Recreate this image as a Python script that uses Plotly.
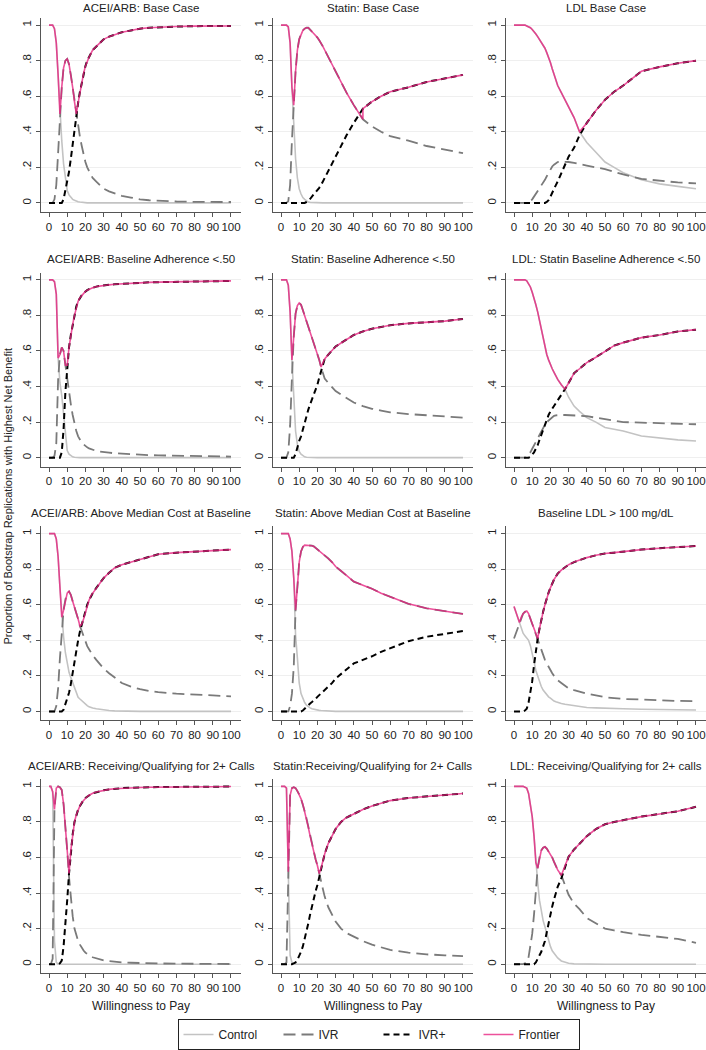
import plotly.graph_objects as go
from plotly.subplots import make_subplots

# willingness to pay grid (shared by every panel)
wtp = [0, 1, 2, 3, 4, 5, 6, 7, 8, 9,
       10, 11, 12, 13, 14, 15, 16, 17, 18, 19,
       20, 21, 22, 23, 24,
       26, 28, 30, 33, 36, 40, 45, 50, 55, 60, 70, 80, 90, 100]

# ACEI/ARB: Base Case
acei_base_control = [1, 1, 1, 0.98, 0.9, 0.72, 0.5, 0.35, 0.22, 0.13,
                     0.07, 0.045, 0.03, 0.02, 0.015, 0.01, 0.007, 0.005, 0.003, 0.002,
                     0.001, 0, 0, 0, 0,
                     0, 0, 0, 0, 0, 0, 0, 0, 0, 0, 0, 0, 0, 0]
acei_base_ivr = [0, 0, 0, 0.02, 0.1, 0.28, 0.5, 0.65, 0.76, 0.8,
                 0.81, 0.78, 0.72, 0.65, 0.57, 0.49, 0.43, 0.37, 0.32, 0.27,
                 0.23, 0.2, 0.18, 0.16, 0.14,
                 0.12, 0.1, 0.08, 0.065, 0.055, 0.04, 0.03, 0.02, 0.015, 0.012, 0.008, 0.006, 0.005, 0.005]
acei_base_ivrplus = [0, 0, 0, 0, 0, 0, 0, 0, 0.02, 0.07,
                     0.12, 0.175, 0.25, 0.33, 0.415, 0.5, 0.563, 0.625, 0.677, 0.728,
                     0.769, 0.8, 0.82, 0.84, 0.86,
                     0.88, 0.9, 0.92, 0.935, 0.945, 0.96, 0.97, 0.98, 0.985, 0.988, 0.992, 0.994, 0.995, 0.995]
acei_base_frontier = [("Control", 0, 6), ("IVR", 7, 14), ("IVR+", 15, 100)]

# Statin: Base Case
statin_base_control = [1, 1, 1, 1, 0.99, 0.9, 0.65, 0.45, 0.25, 0.14,
                       0.08, 0.05, 0.03, 0.02, 0.01, 0.005, 0.003, 0.002, 0.001, 0,
                       0, 0, 0, 0, 0,
                       0, 0, 0, 0, 0, 0, 0, 0, 0, 0, 0, 0, 0, 0]
statin_base_ivr = [0, 0, 0, 0, 0.01, 0.1, 0.35, 0.55, 0.74, 0.86,
                   0.92, 0.95, 0.97, 0.98, 0.985, 0.985, 0.975, 0.96, 0.95, 0.94,
                   0.93, 0.915, 0.9, 0.88, 0.86,
                   0.82, 0.78, 0.74, 0.68, 0.62, 0.55, 0.47, 0.43, 0.4, 0.375, 0.35, 0.32, 0.3, 0.28]
statin_base_ivrplus = [0, 0, 0, 0, 0, 0, 0, 0, 0, 0,
                       0, 0, 0, 0, 0.005, 0.01, 0.022, 0.038, 0.049, 0.06,
                       0.07, 0.085, 0.1, 0.12, 0.14,
                       0.18, 0.22, 0.26, 0.32, 0.38, 0.45, 0.53, 0.57, 0.6, 0.625, 0.65, 0.68, 0.7, 0.72]
statin_base_frontier = [("Control", 0, 6), ("IVR", 7, 45), ("IVR+", 45, 100)]

# LDL Base Case
ldl_base_control = [1, 1, 1, 1, 1, 1, 1, 0.995, 0.99, 0.985,
                    0.975, 0.965, 0.95, 0.935, 0.92, 0.9, 0.885, 0.87, 0.845, 0.82,
                    0.79, 0.755, 0.72, 0.69, 0.66,
                    0.62, 0.58, 0.54, 0.48, 0.4, 0.34, 0.285, 0.23, 0.2, 0.17, 0.13, 0.107, 0.093, 0.08]
ldl_base_ivr = [0, 0, 0, 0, 0, 0, 0, 0, 0.005, 0.01,
                0.02, 0.035, 0.05, 0.065, 0.08, 0.1, 0.115, 0.13, 0.15, 0.17,
                0.19, 0.205, 0.215, 0.225, 0.23,
                0.232, 0.232, 0.23, 0.225, 0.22, 0.21, 0.2, 0.19, 0.175, 0.16, 0.135, 0.125, 0.115, 0.11]
ldl_base_ivrplus = [0, 0, 0, 0, 0, 0, 0, 0, 0, 0,
                    0, 0, 0, 0, 0, 0, 0, 0, 0.005, 0.015,
                    0.035, 0.06, 0.08, 0.1, 0.12,
                    0.17, 0.215, 0.26, 0.31, 0.38, 0.45, 0.52, 0.58, 0.625, 0.66, 0.74, 0.765, 0.785, 0.8]
ldl_base_frontier = [("Control", 0, 36), ("IVR+", 40, 100)]

# ACEI/ARB: Baseline Adherence <.50
acei_adh_control = [1, 1, 1, 0.99, 0.92, 0.56, 0.42, 0.35, 0.24, 0.11,
                    0.04, 0.02, 0.01, 0.005, 0.002, 0, 0, 0, 0, 0,
                    0, 0, 0, 0, 0,
                    0, 0, 0, 0, 0, 0, 0, 0, 0, 0, 0, 0, 0, 0]
acei_adh_ivr = [0, 0, 0, 0.01, 0.08, 0.44, 0.58, 0.62, 0.6, 0.52,
                0.44, 0.36, 0.3, 0.24, 0.19, 0.15, 0.12, 0.1, 0.085, 0.075,
                0.065, 0.058, 0.052, 0.048, 0.044,
                0.038, 0.034, 0.03, 0.028, 0.025, 0.022, 0.02, 0.016, 0.014, 0.013, 0.011, 0.009, 0.007, 0.006]
acei_adh_ivrplus = [0, 0, 0, 0, 0, 0, 0, 0.03, 0.16, 0.37,
                    0.52, 0.62, 0.69, 0.75, 0.8, 0.85, 0.88, 0.9, 0.914, 0.925,
                    0.935, 0.942, 0.948, 0.952, 0.956,
                    0.962, 0.966, 0.97, 0.972, 0.975, 0.978, 0.98, 0.984, 0.986, 0.987, 0.989, 0.991, 0.993, 0.994]
acei_adh_frontier = [("Control", 0, 5), ("IVR", 6, 9), ("IVR+", 10, 100)]

# Statin: Baseline Adherence <.50
statin_adh_control = [1, 1, 1, 1, 0.97, 0.82, 0.55, 0.3, 0.15, 0.075,
                      0.035, 0.02, 0.01, 0.005, 0.002, 0.001, 0, 0, 0, 0,
                      0, 0, 0, 0, 0,
                      0, 0, 0, 0, 0, 0, 0, 0, 0, 0, 0, 0, 0, 0]
statin_adh_ivr = [0, 0, 0, 0, 0.03, 0.18, 0.45, 0.68, 0.81, 0.855,
                  0.87, 0.86, 0.83, 0.8, 0.765, 0.73, 0.7, 0.675, 0.65, 0.62,
                  0.59, 0.55, 0.51, 0.47, 0.445,
                  0.42, 0.395, 0.375, 0.355, 0.335, 0.31, 0.29, 0.275, 0.265, 0.255, 0.245, 0.24, 0.232, 0.225]
statin_adh_ivrplus = [0, 0, 0, 0, 0, 0, 0, 0, 0.02, 0.06,
                      0.095, 0.12, 0.16, 0.195, 0.233, 0.27, 0.3, 0.325, 0.35, 0.38,
                      0.41, 0.45, 0.49, 0.53, 0.555,
                      0.58, 0.605, 0.625, 0.645, 0.665, 0.69, 0.71, 0.725, 0.735, 0.745, 0.755, 0.76, 0.768, 0.78]
statin_adh_frontier = [("Control", 0, 6), ("IVR", 7, 22), ("IVR+", 23, 100)]

# LDL: Statin Baseline Adherence <.50
ldl_adh_control = [1, 1, 1, 1, 1, 1, 1, 0.995, 0.98, 0.96,
                   0.93, 0.9, 0.86, 0.82, 0.77, 0.71, 0.66, 0.62, 0.58, 0.55,
                   0.52, 0.5, 0.48, 0.46, 0.44,
                   0.41, 0.385, 0.34, 0.29, 0.26, 0.225, 0.2, 0.17, 0.16, 0.15, 0.122, 0.11, 0.1, 0.094]
ldl_adh_ivr = [0, 0, 0, 0, 0, 0, 0, 0.005, 0.015, 0.03,
               0.05, 0.07, 0.09, 0.11, 0.13, 0.15, 0.17, 0.185, 0.2, 0.21,
               0.22, 0.228, 0.235, 0.238, 0.24,
               0.24, 0.24, 0.238, 0.237, 0.236, 0.233, 0.225, 0.215, 0.208, 0.2, 0.197, 0.193, 0.19, 0.188]
ldl_adh_ivrplus = [0, 0, 0, 0, 0, 0, 0, 0, 0, 0.005,
                   0.015, 0.03, 0.05, 0.07, 0.1, 0.13, 0.16, 0.19, 0.215, 0.24,
                   0.26, 0.275, 0.29, 0.31, 0.325,
                   0.355, 0.385, 0.42, 0.475, 0.5, 0.535, 0.565, 0.6, 0.63, 0.647, 0.675, 0.69, 0.71, 0.72]
ldl_adh_frontier = [("Control", 0, 28), ("IVR+", 30, 100)]

# ACEI/ARB: Above Median Cost at Baseline
acei_cost_control = [1, 1, 1, 1, 0.97, 0.87, 0.7, 0.53, 0.42, 0.33,
                     0.27, 0.22, 0.19, 0.16, 0.13, 0.1, 0.08, 0.07, 0.06, 0.05,
                     0.04, 0.033, 0.026, 0.022, 0.019,
                     0.015, 0.011, 0.008, 0.005, 0.003, 0.001, 0, 0, 0, 0, 0, 0, 0, 0]
acei_cost_ivr = [0, 0, 0, 0, 0.03, 0.13, 0.3, 0.47, 0.57, 0.63,
                 0.665, 0.675, 0.655, 0.62, 0.59, 0.56, 0.52, 0.48, 0.45, 0.43,
                 0.4, 0.367, 0.35, 0.328, 0.316,
                 0.29, 0.264, 0.242, 0.215, 0.19, 0.16, 0.14, 0.125, 0.115, 0.108, 0.1, 0.097, 0.09, 0.085]
acei_cost_ivrplus = [0, 0, 0, 0, 0, 0, 0, 0, 0.01, 0.04,
                     0.065, 0.105, 0.155, 0.22, 0.28, 0.34, 0.4, 0.45, 0.49, 0.52,
                     0.56, 0.6, 0.625, 0.65, 0.665,
                     0.695, 0.725, 0.75, 0.78, 0.807, 0.825, 0.84, 0.855, 0.87, 0.884, 0.893, 0.9, 0.905, 0.91]
acei_cost_frontier = [("Control", 0, 7), ("IVR", 8, 17), ("IVR+", 18, 100)]

# Statin: Above Median Cost at Baseline
statin_cost_control = [1, 1, 1, 1, 1, 0.97, 0.9, 0.75, 0.43, 0.3,
                       0.16, 0.1, 0.07, 0.05, 0.035, 0.025, 0.02, 0.015, 0.012, 0.01,
                       0.008, 0.006, 0.005, 0.004, 0.003,
                       0.002, 0.001, 0, 0, 0, 0, 0, 0, 0, 0, 0, 0, 0, 0]
statin_cost_ivr = [0, 0, 0, 0, 0, 0.03, 0.1, 0.25, 0.57, 0.7,
                   0.84, 0.9, 0.925, 0.935, 0.935, 0.935, 0.935, 0.932, 0.928, 0.92,
                   0.91, 0.903, 0.895, 0.887, 0.878,
                   0.86, 0.84, 0.815, 0.79, 0.765, 0.73, 0.71, 0.69, 0.665, 0.645, 0.605, 0.58, 0.565, 0.548]
statin_cost_ivrplus = [0, 0, 0, 0, 0, 0, 0, 0, 0, 0,
                       0, 0, 0.005, 0.015, 0.03, 0.04, 0.045, 0.053, 0.06, 0.07,
                       0.082, 0.091, 0.1, 0.109, 0.119,
                       0.138, 0.159, 0.185, 0.21, 0.235, 0.27, 0.29, 0.31, 0.335, 0.355, 0.395, 0.42, 0.435, 0.452]
statin_cost_frontier = [("Control", 0, 7), ("IVR", 8, 100)]

# Baseline LDL > 100 mg/dL
ldl_high_control = [0.59, 0.56, 0.53, 0.5, 0.47, 0.44, 0.425, 0.41, 0.4, 0.37,
                    0.33, 0.28, 0.23, 0.195, 0.165, 0.14, 0.12, 0.105, 0.09, 0.082,
                    0.075, 0.066, 0.058, 0.054, 0.05,
                    0.045, 0.04, 0.037, 0.033, 0.028, 0.022, 0.02, 0.017, 0.016, 0.015, 0.012, 0.01, 0.009, 0.008]
ldl_high_ivr = [0.41, 0.44, 0.47, 0.5, 0.53, 0.55, 0.56, 0.565, 0.55, 0.52,
                0.5, 0.46, 0.43, 0.41, 0.37, 0.34, 0.32, 0.29, 0.27, 0.25,
                0.23, 0.215, 0.2, 0.188, 0.175,
                0.16, 0.145, 0.13, 0.12, 0.11, 0.1, 0.09, 0.08, 0.075, 0.07, 0.067, 0.062, 0.059, 0.058]
ldl_high_ivrplus = [0, 0, 0, 0, 0, 0, 0.005, 0.015, 0.05, 0.11,
                    0.17, 0.26, 0.34, 0.41, 0.465, 0.52, 0.56, 0.6, 0.64, 0.668,
                    0.695, 0.72, 0.742, 0.758, 0.775,
                    0.795, 0.812, 0.825, 0.84, 0.852, 0.865, 0.878, 0.888, 0.893, 0.9, 0.91, 0.918, 0.925, 0.93]
ldl_high_frontier = [("Control", 0, 2), ("IVR", 3, 12), ("IVR+", 13, 100)]

# ACEI/ARB: Receiving/Qualifying for 2+ Calls
acei_calls_control = [1, 1, 0.97, 0.13, 0.01, 0, 0, 0, 0, 0,
                      0, 0, 0, 0, 0, 0, 0, 0, 0, 0,
                      0, 0, 0, 0, 0,
                      0, 0, 0, 0, 0, 0, 0, 0, 0, 0, 0, 0, 0, 0]
acei_calls_ivr = [0, 0, 0.03, 0.87, 0.99, 1.0, 0.995, 0.98, 0.9, 0.78,
                  0.64, 0.49, 0.36, 0.27, 0.2, 0.16, 0.13, 0.11, 0.09, 0.077,
                  0.065, 0.057, 0.05, 0.044, 0.039,
                  0.032, 0.027, 0.022, 0.017, 0.013, 0.01, 0.008, 0.006, 0.005, 0.004, 0.003, 0.002, 0.002, 0.001]
acei_calls_ivrplus = [0, 0, 0, 0, 0, 0, 0.005, 0.02, 0.1, 0.22,
                      0.36, 0.51, 0.64, 0.73, 0.8, 0.84, 0.87, 0.89, 0.91, 0.923,
                      0.935, 0.943, 0.95, 0.956, 0.961,
                      0.968, 0.973, 0.978, 0.983, 0.987, 0.99, 0.992, 0.994, 0.995, 0.996, 0.997, 0.998, 0.998, 0.999]
acei_calls_frontier = [("Control", 0, 2), ("IVR", 3, 10), ("IVR+", 11, 100)]

# Statin:Receiving/Qualifying for 2+ Calls
statin_calls_control = [1, 1, 1, 0.99, 0.52, 0.05, 0.01, 0, 0, 0,
                        0, 0, 0, 0, 0, 0, 0, 0, 0, 0,
                        0, 0, 0, 0, 0,
                        0, 0, 0, 0, 0, 0, 0, 0, 0, 0, 0, 0, 0, 0]
statin_calls_ivr = [0, 0, 0, 0.01, 0.48, 0.95, 0.99, 0.995, 0.99, 0.975,
                    0.955, 0.93, 0.9, 0.86, 0.82, 0.77, 0.72, 0.67, 0.62, 0.59,
                    0.555, 0.51, 0.46, 0.42, 0.38,
                    0.32, 0.275, 0.24, 0.2, 0.175, 0.155, 0.13, 0.11, 0.095, 0.08, 0.065, 0.055, 0.05, 0.045]
statin_calls_ivrplus = [0, 0, 0, 0, 0, 0, 0, 0.005, 0.01, 0.025,
                        0.045, 0.07, 0.1, 0.14, 0.18, 0.23, 0.28, 0.33, 0.38, 0.41,
                        0.445, 0.49, 0.54, 0.58, 0.62,
                        0.68, 0.725, 0.76, 0.8, 0.825, 0.845, 0.87, 0.89, 0.905, 0.92, 0.935, 0.944, 0.953, 0.96]
statin_calls_frontier = [("Control", 0, 4), ("IVR", 5, 21), ("IVR+", 22, 100)]

# LDL: Receiving/Qualifying for 2+ calls
ldl_calls_control = [1, 1, 1, 1, 1, 1, 0.995, 0.99, 0.96, 0.9,
                     0.83, 0.72, 0.57, 0.46, 0.36, 0.29, 0.245, 0.21, 0.17, 0.13,
                     0.1, 0.075, 0.06, 0.045, 0.035,
                     0.018, 0.01, 0.005, 0.002, 0.001, 0, 0, 0, 0, 0, 0, 0, 0, 0]
ldl_calls_ivr = [0, 0, 0, 0, 0, 0, 0.005, 0.01, 0.04, 0.1,
                 0.17, 0.28, 0.42, 0.54, 0.6, 0.64, 0.655, 0.66, 0.65, 0.635,
                 0.62, 0.6, 0.575, 0.55, 0.53,
                 0.5, 0.44, 0.39, 0.34, 0.31, 0.26, 0.23, 0.2, 0.19, 0.18, 0.165, 0.152, 0.142, 0.12]
ldl_calls_ivrplus = [0, 0, 0, 0, 0, 0, 0, 0, 0, 0,
                     0, 0, 0.01, 0.03, 0.05, 0.07, 0.1, 0.13, 0.18, 0.235,
                     0.28, 0.325, 0.365, 0.405, 0.435,
                     0.482, 0.55, 0.605, 0.645, 0.675, 0.72, 0.76, 0.787, 0.8, 0.81, 0.83, 0.845, 0.86, 0.885]
ldl_calls_frontier = [("Control", 0, 12), ("IVR", 13, 26), ("IVR+", 28, 100)]

panels = [
    ("ACEI/ARB: Base Case", acei_base_control, acei_base_ivr, acei_base_ivrplus, acei_base_frontier),
    ("Statin: Base Case", statin_base_control, statin_base_ivr, statin_base_ivrplus, statin_base_frontier),
    ("LDL Base Case", ldl_base_control, ldl_base_ivr, ldl_base_ivrplus, ldl_base_frontier),
    ("ACEI/ARB: Baseline Adherence &lt;.50", acei_adh_control, acei_adh_ivr, acei_adh_ivrplus, acei_adh_frontier),
    ("Statin: Baseline Adherence &lt;.50", statin_adh_control, statin_adh_ivr, statin_adh_ivrplus, statin_adh_frontier),
    ("LDL: Statin Baseline Adherence &lt;.50", ldl_adh_control, ldl_adh_ivr, ldl_adh_ivrplus, ldl_adh_frontier),
    ("ACEI/ARB: Above Median Cost at Baseline", acei_cost_control, acei_cost_ivr, acei_cost_ivrplus, acei_cost_frontier),
    ("Statin: Above Median Cost at Baseline", statin_cost_control, statin_cost_ivr, statin_cost_ivrplus, statin_cost_frontier),
    ("Baseline LDL &gt; 100 mg/dL", ldl_high_control, ldl_high_ivr, ldl_high_ivrplus, ldl_high_frontier),
    ("ACEI/ARB: Receiving/Qualifying for 2+ Calls", acei_calls_control, acei_calls_ivr, acei_calls_ivrplus, acei_calls_frontier),
    ("Statin:Receiving/Qualifying for 2+ Calls", statin_calls_control, statin_calls_ivr, statin_calls_ivrplus, statin_calls_frontier),
    ("LDL: Receiving/Qualifying for 2+ calls", ldl_calls_control, ldl_calls_ivr, ldl_calls_ivrplus, ldl_calls_frontier),
]

for p in panels:
    for s in p[1:4]:
        assert len(s) == len(wtp), (p[0], len(s))

W, H = 706, 1050
FONT = "Liberation Sans, Arial, sans-serif"
col_left = [41, 273, 506]
row_top = [18, 273, 527, 780]
title_y = [8, 259, 513, 767]
pw, ph = 200, 194

fig = make_subplots(rows=4, cols=3)

styles = {
    "Control": dict(color="#c3c3c3", width=1.6),
    "IVR": dict(color="#7a7a7a", width=1.8, dash="12px,6px"),
    "IVR+": dict(color="#000000", width=2, dash="6px,4px"),
}
ranks = {"Control": 1, "IVR": 2, "IVR+": 3}

for i, (title, ctrl, ivr, ivrp, front) in enumerate(panels):
    r, c = i // 3 + 1, i % 3 + 1
    series = {"Control": ctrl, "IVR": ivr, "IVR+": ivrp}
    for name in ["Control", "IVR", "IVR+"]:
        fig.add_trace(go.Scatter(x=wtp, y=series[name], mode="lines", name=name,
                                 line=styles[name], showlegend=(i == 0),
                                 legendrank=ranks[name]),
                      row=r, col=c)
    # frontier follows the option with the highest net benefit
    fx, fy = [], []
    for name, lo, hi in front:
        for x, v in zip(wtp, series[name]):
            if lo <= x <= hi:
                fx.append(x)
                fy.append(v)
    fig.add_trace(go.Scatter(x=fx, y=fy, mode="lines", name="Frontier",
                             line=dict(color="#e8207f", width=1.6), opacity=0.78,
                             showlegend=(i == 0), legendrank=4),
                  row=r, col=c)

    left, top = col_left[c - 1], row_top[r - 1]
    fig.update_xaxes(domain=[left / W, (left + pw) / W], range=[-4.4, 105.5],
                     tickvals=[0, 10, 20, 30, 40, 50, 60, 70, 80, 90, 100], tickangle=0,
                     showgrid=False, zeroline=False, showline=True,
                     linecolor="#555", linewidth=1, ticks="outside", ticklen=4,
                     tickcolor="#555", tickfont=dict(size=11.5, color="#222"),
                     ticklabeloverflow="allow",
                     row=r, col=c)
    fig.update_yaxes(domain=[1 - (top + ph) / H, 1 - top / H], range=[-0.05, 1.04],
                     tickvals=[0, 0.2, 0.4, 0.6, 0.8, 1],
                     ticktext=["0", ".2", ".4", ".6", ".8", "1"], tickangle=-90,
                     showgrid=True, gridcolor="#efefef", gridwidth=1,
                     zeroline=False, showline=True,
                     linecolor="#555", linewidth=1, ticks="outside", ticklen=4,
                     tickcolor="#555", tickfont=dict(size=11.5, color="#222"),
                     row=r, col=c)
    fig.add_annotation(text=title, xref="paper", yref="paper",
                       x=(left + pw / 2) / W, y=1 - title_y[r - 1] / H,
                       xanchor="center", yanchor="middle", showarrow=False,
                       font=dict(size=11.5, color="#222"))
    if r == 4:
        fig.add_annotation(text="Willingness to Pay", xref="paper", yref="paper",
                           x=(left + pw / 2) / W, y=1 - 1007 / H,
                           xanchor="center", yanchor="middle", showarrow=False,
                           font=dict(size=12, color="#222"))

fig.add_annotation(text="Proportion of Bootstrap Replications with Highest Net Benefit",
                   xref="paper", yref="paper", x=8 / W, y=1 - 497 / H,
                   textangle=-90, showarrow=False, xanchor="center", yanchor="middle",
                   font=dict(size=11, color="#222"))

fig.update_layout(
    width=W, height=H,
    margin=dict(l=0, r=0, t=0, b=0),
    paper_bgcolor="white", plot_bgcolor="white",
    font=dict(family=FONT, color="#222"),
    legend=dict(orientation="h", x=378.5 / W, xanchor="center",
                y=1 - 1035 / H, yanchor="middle",
                bordercolor="#222", borderwidth=1, bgcolor="white",
                font=dict(size=12), entrywidth=55, traceorder="normal"),
)

# drop the default page margin so the figure fills the window exactly
fig.write_html("out.html", config={"displayModeBar": False},
               post_script="document.body.style.margin='0';document.body.style.overflow='hidden';")
